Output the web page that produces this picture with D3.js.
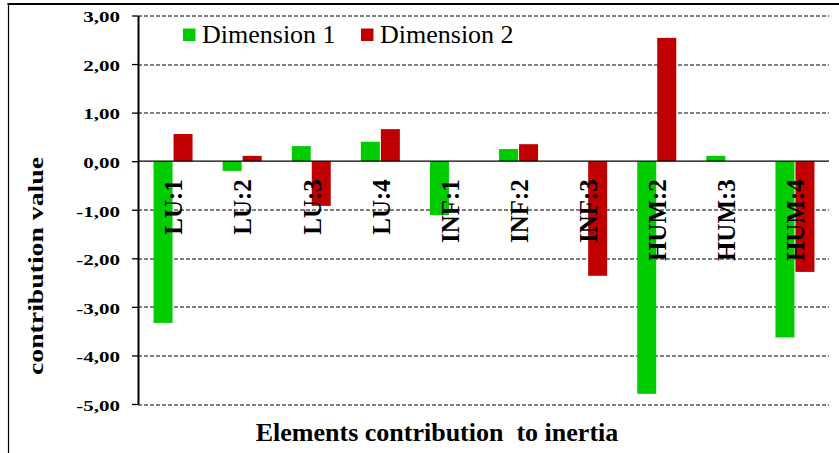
<!DOCTYPE html>
<html>
<head>
<meta charset="utf-8">
<script src="https://cdn.jsdelivr.net/npm/d3@7"></script>
<style>
  html, body { margin: 0; padding: 0; background: #fff; }
  svg { display: block; }
  text { font-family: "Liberation Serif", "Times New Roman", serif; }
</style>
</head>
<body>
<svg id="chart" width="839" height="453"></svg>
<script>
const categories = ["LU:1", "LU:2", "LU:3", "LU:4", "INF:1", "INF:2", "INF:3", "HUM:2", "HUM:3", "HUM:4"];
const dimension1 = [-3.33, -0.20, 0.31, 0.40, -1.11, 0.25, 0.00, -4.79, 0.11, -3.63];
const dimension2 = [0.56, 0.11, -0.92, 0.66, 0.00, 0.35, -2.36, 2.54, 0.00, -2.28];
const seriesNames = ["Dimension 1", "Dimension 2"];
const seriesColors = ["#00CC00", "#C00000"];
const yTicks = [3, 2, 1, 0, -1, -2, -3, -4, -5];
const yTickLabels = ["3,00", "2,00", "1,00", "0,00", "-1,00", "-2,00", "-3,00", "-4,00", "-5,00"];
const xTitle = "Elements contribution  to inertia";
const yTitle = "contribution value";

const svg = d3.select("#chart");
const margin = { left: 138, top: 15.5, right: 10, bottom: 49 };
const W = 839, H = 453;
const plotW = 829 - margin.left;
const plotH = 404 - margin.top;

// outer frame (cropped on right and bottom)
svg.append("line").attr("x1", 7.5).attr("x2", 839).attr("y1", 4).attr("y2", 4)
  .attr("stroke", "#000").attr("stroke-width", 2);
svg.append("line").attr("x1", 8.5).attr("x2", 8.5).attr("y1", 3).attr("y2", 453)
  .attr("stroke", "#000").attr("stroke-width", 1.2);

const g = svg.append("g").attr("transform", `translate(${margin.left},${margin.top})`);

const y = d3.scaleLinear().domain([-5, 3]).range([plotH, 0]);
const x0 = d3.scaleBand().domain(categories).range([0, plotW]).paddingInner(0.45).paddingOuter(0.225);
const x1 = d3.scaleBand().domain(seriesNames).range([0, x0.bandwidth()]).padding(0);

// gridlines
g.append("g").selectAll("line").data(yTicks.filter(d => d !== 0)).join("line")
  .attr("x1", 0).attr("x2", plotW)
  .attr("y1", d => Math.round(y(d)) + 0.5).attr("y2", d => Math.round(y(d)) + 0.5)
  .attr("stroke", "#000").attr("stroke-width", 1).attr("stroke-dasharray", "4,2");

// bars
const rows = categories.map((c, i) => ({ cat: c, vals: [dimension1[i], dimension2[i]] }));
const groups = g.append("g").selectAll("g").data(rows).join("g")
  .attr("transform", d => `translate(${x0(d.cat)},0)`);
groups.selectAll("rect").data(d => d.vals.map((v, k) => ({ v, k }))).join("rect")
  .attr("x", d => x1(seriesNames[d.k]) + (d.k === 1 ? 1 : 0))
  .attr("width", x1.bandwidth() - (d => 0)())
  .attr("y", d => y(Math.max(0, d.v)))
  .attr("height", d => Math.abs(y(d.v) - y(0)))
  .attr("fill", d => seriesColors[d.k]);

// zero line
g.append("line").attr("x1", 0).attr("x2", plotW)
  .attr("y1", y(0)).attr("y2", y(0)).attr("stroke", "#000").attr("stroke-width", 1.3);

// y axis
const yAxis = d3.axisLeft(y).tickValues(yTicks)
  .tickFormat((d, i) => yTickLabels[i]).tickSizeInner(6).tickSizeOuter(0).tickPadding(0);
const ya = g.append("g").call(yAxis);
ya.select(".domain").attr("stroke", "#000").attr("stroke-width", 2);
ya.selectAll(".tick line").attr("stroke", "#000").attr("stroke-width", 1.3);
ya.selectAll(".tick text")
  .attr("x", -18 / 1.4)
  .attr("dy", "0.42em")
  .attr("transform", "scale(1.4,1)")
  .attr("font-family", "Liberation Serif")
  .attr("font-weight", "bold")
  .attr("font-size", 15)
  .attr("fill", "#000");

// category labels (rotated)
g.append("g").selectAll("text").data(categories).join("text")
  .attr("transform", d => `translate(${x0(d) + x0.bandwidth() / 2 + 1},${y(0) + 18}) rotate(-90)`)
  .attr("text-anchor", "end")
  .attr("dy", "0.35em")
  .attr("font-weight", "bold")
  .attr("font-size", 25)
  .attr("fill", "#000")
  .text(d => d);

// legend
const legend = svg.append("g");
const legX = [183, 361];
seriesNames.forEach((name, k) => {
  legend.append("rect").attr("x", legX[k]).attr("y", 28.5).attr("width", 12.5).attr("height", 12.5)
    .attr("fill", seriesColors[k]);
  legend.append("text").attr("x", legX[k] + 19).attr("y", 43)
    .attr("font-size", 26).attr("fill", "#000").text(name);
});

// axis titles
svg.append("text").attr("x", 437).attr("y", 441)
  .attr("text-anchor", "middle").attr("font-weight", "bold").attr("font-size", 26)
  .style("white-space", "pre").attr("fill", "#000").text(xTitle);

svg.append("text").attr("transform", "translate(43,266) rotate(-90)")
  .attr("text-anchor", "middle").attr("font-weight", "bold").attr("font-size", 20)
  .attr("textLength", 218).attr("lengthAdjust", "spacingAndGlyphs")
  .attr("fill", "#000").text(yTitle);
</script>
</body>
</html>
